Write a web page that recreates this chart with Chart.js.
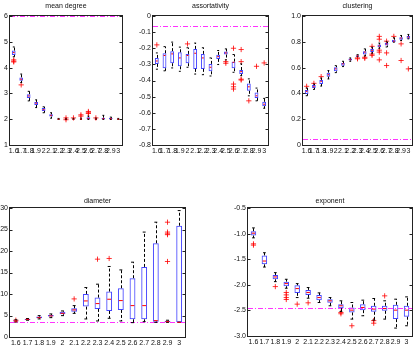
<!DOCTYPE html>
<html>
<head>
<meta charset="utf-8">
<script src="https://cdn.jsdelivr.net/npm/chart.js@4.4.1/dist/chart.umd.min.js"></script>
<style>
  html, body { margin: 0; padding: 0; background: #fff; }
  #wrap { position: relative; width: 417px; height: 348px; }
  #wrap canvas { position: absolute; left: 0; top: 0; }
</style>
</head>
<body>
<div id="wrap">
  <canvas id="degreeChart" width="417" height="348"></canvas>
  <canvas id="assortChart" width="417" height="348"></canvas>
  <canvas id="clusterChart" width="417" height="348"></canvas>
  <canvas id="diameterChart" width="417" height="348"></canvas>
  <canvas id="exponentChart" width="417" height="348"></canvas>
</div>
<script>
// x categories (exponent of the generating model)
const ratios = ['1.6', '1.7', '1.8', '1.9', '2', '2.1', '2.2', '2.3', '2.4', '2.5', '2.6', '2.7', '2.8', '2.9', '3'];

// each box: [lower whisker, q1, median, q3, upper whisker]
const degreeBoxes = [
  [4.42, 4.49, 4.58, 4.66, 4.8], [3.42, 3.49, 3.55, 3.62, 3.75], [2.71, 2.82, 2.9, 2.97, 3.08],
  [2.45, 2.55, 2.62, 2.67, 2.75], [2.25, 2.32, 2.37, 2.43, 2.48], [2.04, 2.1, 2.15, 2.19, 2.25],
  [1.99, 2.0, 2.0, 2.02, 2.03], [1.99, 2.0, 2.01, 2.02, 2.03], [1.99, 2.0, 2.0, 2.02, 2.03],
  [1.99, 2.0, 2.0, 2.02, 2.04], [1.99, 2.0, 2.03, 2.08, 2.12], [1.99, 2.0, 2.0, 2.02, 2.04],
  [1.99, 2.0, 2.02, 2.06, 2.15], [1.99, 2.0, 2.02, 2.05, 2.08], [1.99, 2.0, 2.0, 2.02, 2.03]
];
const degreeOutliers = [[4.3, 4.25, 4.22], [3.33], [], [], [], [], [], [2.05, 1.98], [2.05], [2.17, 2.12],
  [2.3, 2.25, 2.22], [2.05], [], [], []];
const degreeRef = 6;

const assortBoxes = [
  [-0.33, -0.297, -0.279, -0.26, -0.229], [-0.34, -0.324, -0.245, -0.231, -0.19], [-0.322, -0.293, -0.235, -0.218, -0.162],
  [-0.343, -0.312, -0.26, -0.225, -0.193], [-0.318, -0.293, -0.245, -0.235, -0.197], [-0.36, -0.328, -0.231, -0.204, -0.168],
  [-0.364, -0.328, -0.26, -0.235, -0.197], [-0.372, -0.343, -0.318, -0.297, -0.26], [-0.301, -0.266, -0.252, -0.241, -0.214],
  [-0.272, -0.239, -0.229, -0.22, -0.204], [-0.349, -0.324, -0.287, -0.283, -0.239], [-0.37, -0.36, -0.345, -0.335, -0.297],
  [-0.495, -0.464, -0.439, -0.418, -0.39], [-0.526, -0.509, -0.495, -0.474, -0.447], [-0.572, -0.559, -0.547, -0.532, -0.511]
];
const assortOutliers = [[-0.179], [], [], [], [-0.173], [], [], [], [], [-0.283, -0.293],
  [-0.2, -0.422, -0.439, -0.453], [-0.208, -0.283, -0.392, -0.397], [-0.526], [-0.312], [-0.291]];
const assortRef = -0.064;

const clusterBoxes = [
  [0.382, 0.395, 0.416, 0.426, 0.442], [0.431, 0.442, 0.452, 0.465, 0.473], [0.457, 0.473, 0.494, 0.504, 0.519],
  [0.512, 0.53, 0.545, 0.561, 0.577], [0.561, 0.571, 0.59, 0.603, 0.615], [0.608, 0.615, 0.629, 0.636, 0.649],
  [0.649, 0.655, 0.662, 0.67, 0.675], [0.685, 0.685, 0.691, 0.696, 0.7], [0.69, 0.701, 0.72, 0.727, 0.745],
  [0.712, 0.72, 0.732, 0.745, 0.758], [0.75, 0.758, 0.769, 0.779, 0.79], [0.76, 0.771, 0.782, 0.79, 0.8],
  [0.797, 0.797, 0.805, 0.816, 0.831], [0.81, 0.816, 0.829, 0.836, 0.849], [0.823, 0.823, 0.836, 0.844, 0.857]
];
const clusterOutliers = [[0.455], [0.478], [0.53], [], [], [], [], [0.675, 0.668], [0.68, 0.672], [0.765, 0.705, 0.695],
  [0.842, 0.82, 0.735, 0.72, 0.66], [0.805, 0.714, 0.616], [0.842], [0.784, 0.655], [0.59]];
const clusterRef = 0.044;

const diameterBoxes = [
  [3.5, 3.6, 3.7, 3.85, 4.0], [3.9, 3.96, 4.1, 4.2, 4.3], [4.2, 4.35, 4.5, 4.74, 4.97],
  [4.5, 4.74, 4.9, 5.13, 5.36], [4.97, 5.28, 5.5, 5.9, 6.06], [5.5, 5.9, 6.3, 6.68, 7.3],
  [4.2, 7.07, 8.39, 10.02, 11.5], [3.73, 6.53, 7.77, 9.17, 12.28], [4.35, 6.06, 8.78, 10.57, 16.4],
  [3.73, 6.29, 8.47, 11.34, 15.6], [3.34, 4.12, 7.3, 13.68, 17.4], [3.57, 4.12, 7.3, 16.3, 24.4],
  [3.4, 3.57, 3.81, 21.8, 26.7], [3.4, 3.45, 3.57, 3.8, 3.9], [3.42, 3.42, 3.42, 25.87, 29.4]
];
const diameterOutliers = [[3.9], [], [], [], [], [8.86], [], [18.1], [18.26], [], [], [], [],
  [26.7, 24.4, 24.0, 23.8, 17.56], []];
const diameterRef = 3.5;

const exponentBoxes = [
  [-1.083, -1.038, -0.992, -0.953, -0.889], [-1.653, -1.601, -1.536, -1.426, -1.374], [-1.938, -1.892, -1.847, -1.808, -1.763],
  [-2.067, -2.028, -1.977, -1.938, -1.892], [-2.249, -2.158, -2.074, -2.009, -1.977], [-2.262, -2.197, -2.15, -2.1, -2.054],
  [-2.346, -2.3, -2.249, -2.2, -2.158], [-2.41, -2.352, -2.313, -2.281, -2.249], [-2.52, -2.456, -2.41, -2.378, -2.313],
  [-2.67, -2.54, -2.495, -2.443, -2.346], [-2.605, -2.495, -2.443, -2.378, -2.3], [-2.689, -2.527, -2.475, -2.41, -2.268],
  [-2.67, -2.508, -2.462, -2.41, -2.313], [-2.845, -2.67, -2.495, -2.391, -2.281], [-2.8, -2.624, -2.495, -2.41, -2.236]
];
const exponentOutliers = [[-1.2, -1.225], [], [-2.035], [-2.15, -2.197, -2.249, -2.287], [-2.378], [-2.352], [], [],
  [-2.54, -2.566], [-2.8], [], [-2.7, -2.75], [-2.216], [], []];
const exponentRef = -2.46;

const FONT = { family: "'Liberation Sans', Arial, sans-serif", size: 7 };

// whiskers, medians, reference line and the axes frame
const boxDecor = {
  id: 'boxDecor',
  afterDatasetsDraw(chart, args, opts) {
    const { ctx, chartArea: a, scales: { y } } = chart;
    const meta = chart.getDatasetMeta(0);
    const line = (x1, y1, x2, y2) => { ctx.beginPath(); ctx.moveTo(x1, y1); ctx.lineTo(x2, y2); ctx.stroke(); };
    ctx.save();
    ctx.lineWidth = 1;

    // reference value
    const ry = Math.round(y.getPixelForValue(opts.ref)) + 0.5;
    ctx.strokeStyle = '#ff33ff';
    ctx.setLineDash([5, 2, 1, 2]);
    line(a.left, ry, a.right, ry);

    meta.data.forEach((bar, i) => {
      const b = opts.boxes[i];
      const { x: cx, width } = bar.getProps(['x', 'width'], true);
      const half = width / 2;
      const px = Math.round(cx) + 0.5;
      const py = v => y.getPixelForValue(v);
      // dashed whiskers
      ctx.strokeStyle = '#000';
      ctx.setLineDash([3, 2]);
      line(px, py(b[3]), px, py(b[4]));
      line(px, py(b[1]), px, py(b[0]));
      // caps
      ctx.setLineDash([]);
      line(cx - half / 2, py(b[4]), cx + half / 2, py(b[4]));
      line(cx - half / 2, py(b[0]), cx + half / 2, py(b[0]));
      // median
      ctx.strokeStyle = '#ff0000';
      line(cx - half + 1, py(b[2]), cx + half - 1, py(b[2]));
    });

    // frame + inward ticks
    ctx.setLineDash([]);
    ctx.strokeStyle = '#222';
    const l = Math.round(a.left) - 0.5, r = Math.round(a.right) + 0.5;
    const t = Math.round(a.top) - 0.5, btm = Math.round(a.bottom) + 0.5;
    ctx.strokeRect(l, t, r - l, btm - t);
    y.ticks.forEach(tk => {
      const ty = Math.round(y.getPixelForValue(tk.value)) + 0.5;
      line(l, ty, l + 3, ty);
      line(r, ty, r - 3, ty);
    });
    ctx.restore();
  }
};

function boxChart(id, title, boxes, outliers, ref, yMin, yMax, yStep, area) {
  const outPoints = [];
  outliers.forEach((vals, i) => vals.forEach(v => outPoints.push({ x: ratios[i], y: v })));
  const yw = Math.min(22, area.left);
  const xh = area.xh;
  new Chart(document.getElementById(id).getContext('2d'), {
    type: 'bar',
    data: {
      labels: ratios,
      datasets: [{
        label: 'box',
        data: boxes.map(b => [b[1], b[3]]),
        backgroundColor: 'rgba(0,0,0,0)',
        borderColor: 'rgba(20,20,255,0.8)',
        borderWidth: 1,
        borderSkipped: false,
        barPercentage: 0.5,
        categoryPercentage: 1
      }, {
        type: 'line',
        label: 'outliers',
        data: outPoints,
        showLine: false,
        pointStyle: 'cross',
        pointRadius: 2.6,
        pointBorderWidth: 1,
        borderColor: 'rgba(255,0,0,0.8)',
        backgroundColor: 'rgba(255,0,0,0.8)'
      }]
    },
    options: {
      responsive: false,
      animation: false,
      events: [],
      layout: {
        padding: {
          left: area.left - yw,
          right: 417 - area.right,
          top: area.titleTop,
          bottom: 348 - area.bottom - xh
        }
      },
      scales: {
        x: {
          grid: { display: false, drawTicks: false },
          border: { display: false },
          ticks: { font: FONT, color: '#111', padding: 2, autoSkip: false, maxRotation: 0, minRotation: 0 },
          afterFit: s => { s.height = xh; }
        },
        y: {
          min: yMin,
          max: yMax,
          grid: { display: false, drawTicks: false },
          border: { display: false },
          ticks: { font: FONT, color: '#111', padding: 2, stepSize: yStep },
          afterFit: s => { s.width = yw; }
        }
      },
      plugins: {
        legend: { display: false },
        tooltip: { enabled: false },
        title: {
          display: true,
          text: title,
          fullSize: false,
          font: { family: FONT.family, size: 7, weight: 'normal' },
          color: '#111',
          padding: { top: 0, bottom: area.top - area.titleTop - 8.4 }
        },
        boxDecor: { boxes: boxes, ref: ref }
      }
    },
    plugins: [boxDecor]
  });
}

document.addEventListener('DOMContentLoaded', function () {
  boxChart('degreeChart', 'mean degree', degreeBoxes, degreeOutliers, degreeRef, 1, 6, 1,
    { left: 10, right: 122, top: 16, bottom: 145, titleTop: 1.5, xh: 12 });
  boxChart('assortChart', 'assortativity', assortBoxes, assortOutliers, assortRef, -0.8, 0, 0.1,
    { left: 153, right: 268, top: 16, bottom: 145, titleTop: 1.5, xh: 12 });
  boxChart('clusterChart', 'clustering', clusterBoxes, clusterOutliers, clusterRef, 0, 1, 0.2,
    { left: 303, right: 413, top: 16, bottom: 145, titleTop: 1.5, xh: 12 });
  boxChart('diameterChart', 'diameter', diameterBoxes, diameterOutliers, diameterRef, 0, 30, 5,
    { left: 10, right: 185, top: 208, bottom: 337, titleTop: 196.8, xh: 10 });
  boxChart('exponentChart', 'exponent', exponentBoxes, exponentOutliers, exponentRef, -3, -0.5, 0.5,
    { left: 248, right: 414, top: 208, bottom: 336, titleTop: 196.8, xh: 10 });
});
</script>
</body>
</html>
